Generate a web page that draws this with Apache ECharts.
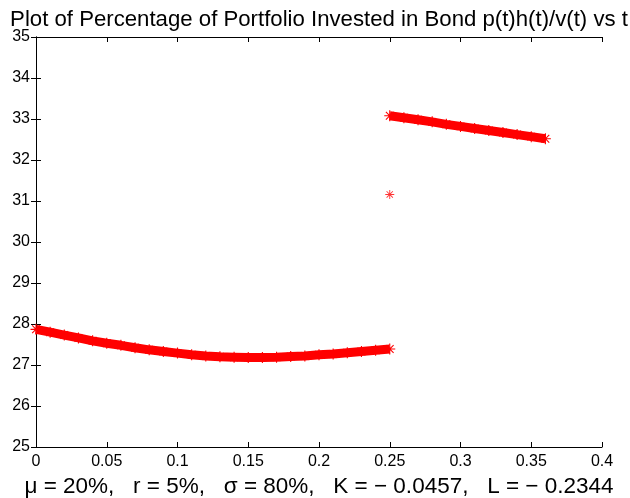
<!DOCTYPE html>
<html>
<head>
<meta charset="utf-8">
<script src="https://cdn.jsdelivr.net/npm/echarts@6/dist/echarts.min.js"></script>
<style>html,body{margin:0;padding:0;background:#fff}#c{width:630px;height:498px}</style>
</head>
<body>
<div id="c"></div>
<script>
// Segment 1: t in [0, 0.25]
var t1 = [0, 0.01, 0.02, 0.03, 0.04, 0.05, 0.06, 0.07, 0.08, 0.09, 0.10, 0.11, 0.12, 0.13, 0.14, 0.15, 0.16, 0.17, 0.18, 0.19, 0.20, 0.21, 0.22, 0.23, 0.24, 0.25];
var v1 = [27.87, 27.80, 27.73, 27.66, 27.59, 27.53, 27.48, 27.42, 27.37, 27.33, 27.29, 27.25, 27.22, 27.20, 27.19, 27.18, 27.18, 27.19, 27.21, 27.22, 27.25, 27.27, 27.30, 27.33, 27.36, 27.39];
// Segment 2: t in [0.25, 0.36]
var t2 = [0.25, 0.26, 0.27, 0.28, 0.29, 0.30, 0.31, 0.32, 0.33, 0.34, 0.35, 0.36];
var v2 = [33.08, 33.03, 32.98, 32.93, 32.87, 32.82, 32.77, 32.72, 32.67, 32.62, 32.57, 32.52];
// Isolated point
var t3 = [0.25];
var v3 = [31.16];

var xTicks = [0, 0.05, 0.1, 0.15, 0.2, 0.25, 0.3, 0.35, 0.4];
var yTicks = [25, 26, 27, 28, 29, 30, 31, 32, 33, 34, 35];

var titleText = 'Plot of Percentage of Portfolio Invested in Bond p(t)h(t)/v(t) vs t';
var xName = 'μ = 20%,   r = 5%,   σ = 80%,   K = − 0.0457,   L = − 0.2344';

function zip(a, b) { return a.map(function (x, i) { return [x, b[i]]; }); }

var star = 'path://M0 9L20 9L20 11L0 11Z M9 0L11 0L11 20L9 20Z M2.3 3.7L3.7 2.3L17.7 16.3L16.3 17.7Z M16.3 2.3L17.7 3.7L3.7 17.7L2.3 16.3Z';
var FONT = 'Liberation Sans, Arial, Helvetica, sans-serif';

var chart = echarts.init(document.getElementById('c'), null, {renderer: 'canvas'});
var axisCommon = {
  type: 'value',
  axisLine: {show: true, lineStyle: {color: '#000', width: 1}},
  axisTick: {show: true, inside: true, length: 5, lineStyle: {color: '#000'}},
  splitLine: {show: false}
};
chart.setOption({
  animation: false,
  backgroundColor: '#fff',
  title: {
    text: titleText, left: 314, textAlign: 'center', top: 4,
    textStyle: {fontFamily: FONT, fontSize: 22.2, fontWeight: 'normal', color: '#000'}
  },
  grid: {left: 36, right: 28, top: 37, bottom: 51, containLabel: false, outerBoundsMode: 'none'},
  xAxis: [
    Object.assign({}, axisCommon, {
      min: 0, max: 0.4, interval: 0.05, position: 'bottom',
      axisLabel: {fontFamily: FONT, fontSize: 16, color: '#000', margin: 7,
        formatter: function (v) { return String(Math.round(v * 100) / 100); }},
      name: xName, nameLocation: 'middle', nameGap: 27,
      nameTextStyle: {fontFamily: FONT, fontSize: 22.5, color: '#000'}
    }),
    Object.assign({}, axisCommon, {
      min: 0, max: 0.4, interval: 0.05, position: 'top', axisLabel: {show: false}
    })
  ],
  yAxis: [
    Object.assign({}, axisCommon, {
      min: 25, max: 35, interval: 1, position: 'left',
      axisLabel: {fontFamily: FONT, fontSize: 16, color: '#000', margin: 6}
    }),
    Object.assign({}, axisCommon, {
      min: 25, max: 35, interval: 1, position: 'right', axisLabel: {show: false}
    })
  ],
  series: [
    {
      type: 'line', data: zip(t1, v1), xAxisIndex: 0, yAxisIndex: 0,
      lineStyle: {color: '#ff0000', width: 9}, itemStyle: {color: '#ff0000'},
      symbol: star, symbolSize: 11, showSymbol: true, showAllSymbol: true,
      clip: false, silent: true
    },
    {
      type: 'line', data: zip(t2, v2), xAxisIndex: 0, yAxisIndex: 0,
      lineStyle: {color: '#ff0000', width: 9}, itemStyle: {color: '#ff0000'},
      symbol: star, symbolSize: 11, showSymbol: true, showAllSymbol: true,
      clip: false, silent: true
    },
    {
      type: 'scatter', data: zip(t3, v3), xAxisIndex: 0, yAxisIndex: 0,
      symbol: star, symbolSize: 9, itemStyle: {color: '#ff0000'}, silent: true
    }
  ]
});
</script>
</body>
</html>
